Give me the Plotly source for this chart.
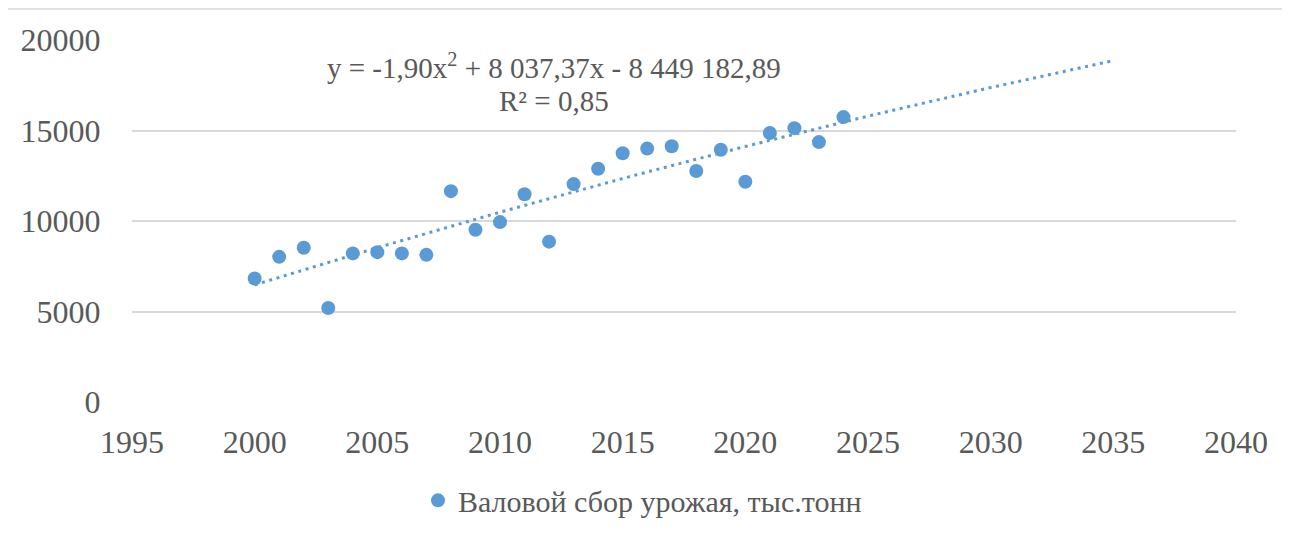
import numpy as np
import plotly.graph_objects as go

years = [2000, 2001, 2002, 2003, 2004, 2005, 2006, 2007, 2008, 2009, 2010, 2011, 2012,
         2013, 2014, 2015, 2016, 2017, 2018, 2019, 2020, 2021, 2022, 2023, 2024]
harvest = [6820, 8020, 8520, 5190, 8210, 8280, 8210, 8130, 11650, 9520, 9940, 11480, 8860,
           12040, 12890, 13740, 14000, 14130, 12760, 13940, 12170, 14860, 15130, 14360, 15740]
series_name = "Валовой сбор урожая, тыс.тонн"
equation_line1 = "y = -1,90x<sup>2</sup> + 8 037,37x - 8 449 182,89"
equation_line2 = "R² = 0,85"
forecast_end = 2035

# Quadratic trend fitted to the data (Excel-style polynomial trendline with forecast)
coef = np.polyfit(np.array(years, dtype=float) - 2000, np.array(harvest, dtype=float), 2)
trend_x = np.arange(years[0], forecast_end + 0.01, 0.25)
trend_y = np.polyval(coef, trend_x - 2000)

FONT = "Liberation Serif"
TXT = "#595959"
BLUE = "#5B9BD5"

# page offset of the figure (browser body margin)
OFF = 8
W, H = 1282, 527
L, T = 132 - OFF, 40 - OFF
R = W - (1236 - OFF)
B = H - (401.7 - OFF)
PW, PH = 1236 - 132, 401.7 - 40


def px(xp):
    return (xp - 132) / PW


def py(yp):
    return (401.7 - yp) / PH


fig = go.Figure()
fig.add_trace(go.Scatter(
    x=trend_x, y=trend_y, mode="lines",
    line=dict(color=BLUE, width=3, dash="3px,4.6px"),
    showlegend=False, hoverinfo="skip"))
fig.add_trace(go.Scatter(
    x=years, y=harvest, mode="markers", name=series_name,
    marker=dict(color=BLUE, size=14)))

fig.update_layout(
    width=W, height=H,
    margin=dict(l=L, r=R, t=T, b=B, autoexpand=False),
    paper_bgcolor="white", plot_bgcolor="white",
    font=dict(family=FONT, color=TXT, size=32),
    xaxis=dict(range=[1995, 2040], tickmode="linear", tick0=1995, dtick=5,
               showgrid=False, zeroline=False, showline=False,
               ticks="outside", ticklen=12, tickcolor="rgba(0,0,0,0)",
               tickfont=dict(size=32, family=FONT, color=TXT)),
    yaxis=dict(range=[0, 20000], tickmode="linear", tick0=0, dtick=5000,
               tickformat="d",
               showgrid=True, gridcolor="#D9D9D9", gridwidth=1.5,
               zeroline=False, showline=False,
               ticks="outside", ticklen=24, tickcolor="rgba(0,0,0,0)",
               tickfont=dict(size=32, family=FONT, color=TXT)),
    legend=dict(orientation="h", x=px(418), xanchor="left",
                y=py(474), yanchor="top",
                font=dict(size=30, family=FONT, color=TXT),
                bgcolor="rgba(0,0,0,0)", itemwidth=30),
    showlegend=True,
    annotations=[
        dict(text=equation_line1, x=px(554), y=py(66),
             xref="paper", yref="paper", xanchor="center", yanchor="middle",
             showarrow=False, font=dict(size=29, family=FONT, color=TXT)),
        dict(text=equation_line2, x=px(554), y=py(101),
             xref="paper", yref="paper", xanchor="center", yanchor="middle",
             showarrow=False, font=dict(size=29, family=FONT, color=TXT)),
    ],
    shapes=[dict(type="rect", xref="paper", yref="paper",
                 x0=px(7), x1=1.2, y0=-0.6, y1=py(9),
                 line=dict(color="#D9D9D9", width=1.5), fillcolor="rgba(0,0,0,0)",
                 layer="below")],
)

fig.write_html("out.html")
